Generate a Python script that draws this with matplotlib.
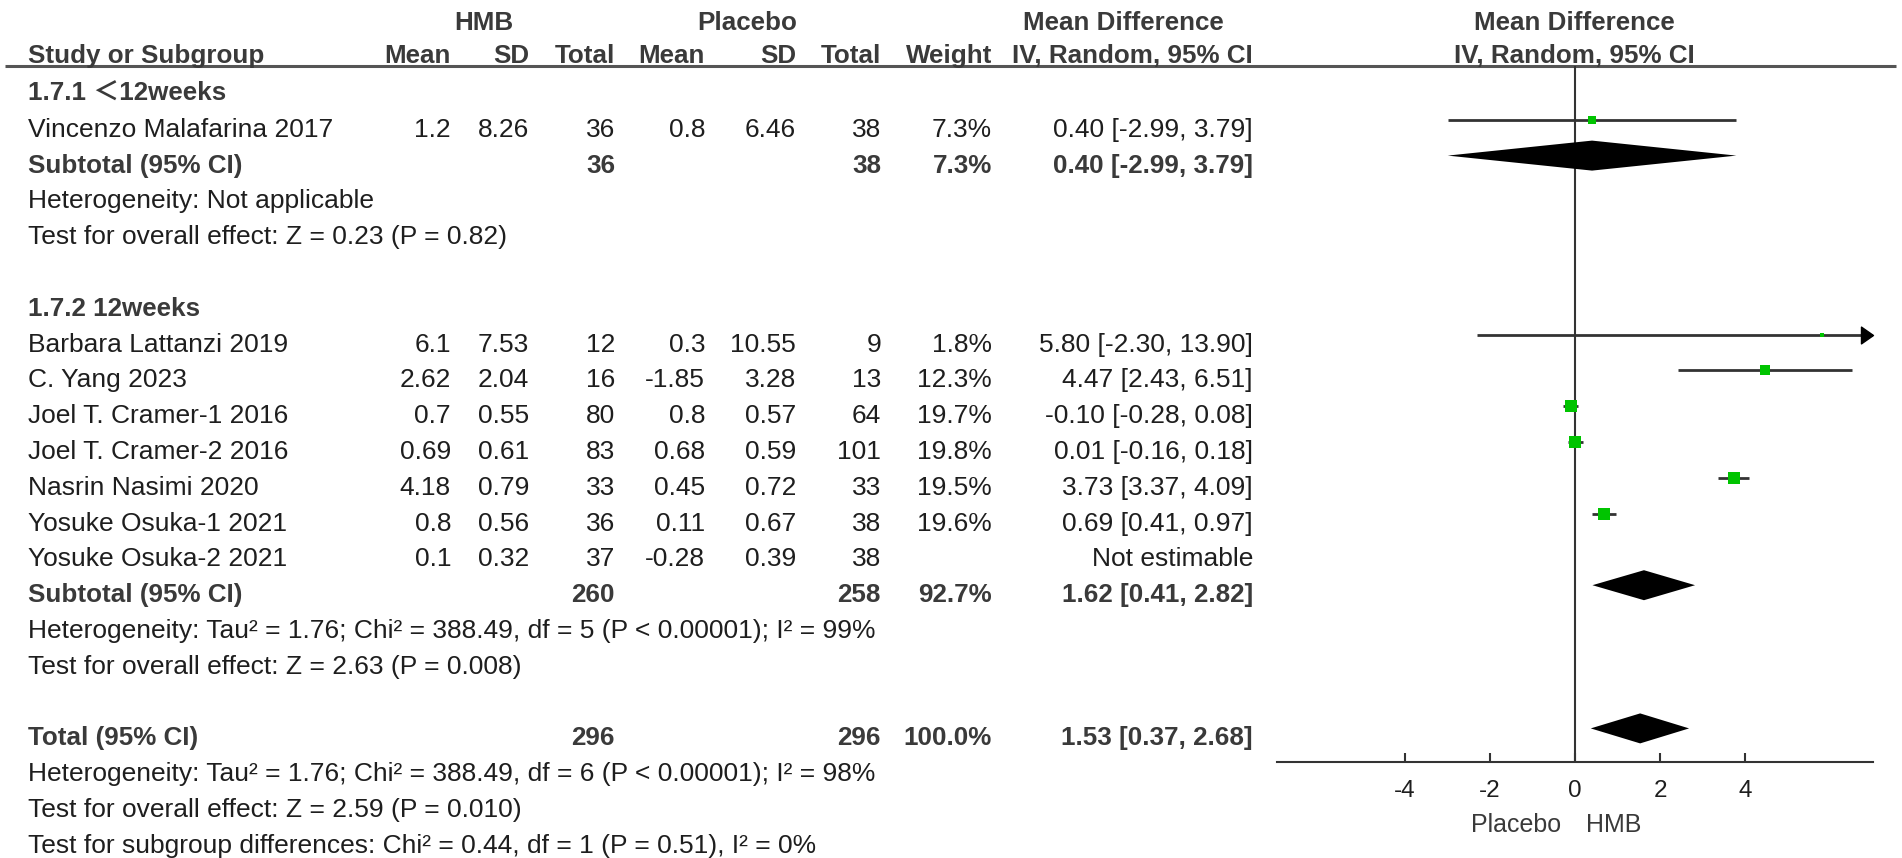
import matplotlib
matplotlib.use("Agg")
import matplotlib.pyplot as plt
import numpy as np
from matplotlib.path import Path

# ---------------- data ----------------
studies = ["Vincenzo Malafarina 2017", "Barbara Lattanzi 2019", "C. Yang 2023",
           "Joel T. Cramer-1 2016", "Joel T. Cramer-2 2016", "Nasrin Nasimi 2020",
           "Yosuke Osuka-1 2021", "Yosuke Osuka-2 2021"]
study_group = [0, 1, 1, 1, 1, 1, 1, 1]
hmb_mean = ["1.2", "6.1", "2.62", "0.7", "0.69", "4.18", "0.8", "0.1"]
hmb_sd = ["8.26", "7.53", "2.04", "0.55", "0.61", "0.79", "0.56", "0.32"]
hmb_n = [36, 12, 16, 80, 83, 33, 36, 37]
pla_mean = ["0.8", "0.3", "-1.85", "0.8", "0.68", "0.45", "0.11", "-0.28"]
pla_sd = ["6.46", "10.55", "3.28", "0.57", "0.59", "0.72", "0.67", "0.39"]
pla_n = [38, 9, 13, 64, 101, 33, 38, 38]
weight = [7.3, 1.8, 12.3, 19.7, 19.8, 19.5, 19.6, None]
md = [0.40, 5.80, 4.47, -0.10, 0.01, 3.73, 0.69, None]
md_lo = [-2.99, -2.30, 2.43, -0.28, -0.16, 3.37, 0.41, None]
md_hi = [3.79, 13.90, 6.51, 0.08, 0.18, 4.09, 0.97, None]

group_labels = ["1.7.1 \uff1c12weeks", "1.7.2 12weeks"]
sub_hmb_n = [36, 260]
sub_pla_n = [38, 258]
sub_weight = [7.3, 92.7]
sub_md = [0.40, 1.62]
sub_lo = [-2.99, 0.41]
sub_hi = [3.79, 2.82]
sub_het = ["Heterogeneity: Not applicable",
           "Heterogeneity: Tau\u00b2 = 1.76; Chi\u00b2 = 388.49, df = 5 (P < 0.00001); I\u00b2 = 99%"]
sub_test = ["Test for overall effect: Z = 0.23 (P = 0.82)",
            "Test for overall effect: Z = 2.63 (P = 0.008)"]

tot_hmb_n, tot_pla_n, tot_weight = 296, 296, 100.0
tot_md, tot_lo, tot_hi = 1.53, 0.37, 2.68
tot_lines = ["Heterogeneity: Tau\u00b2 = 1.76; Chi\u00b2 = 388.49, df = 6 (P < 0.00001); I\u00b2 = 98%",
             "Test for overall effect: Z = 2.59 (P = 0.010)",
             "Test for subgroup differences: Chi\u00b2 = 0.44, df = 1 (P = 0.51), I\u00b2 = 0%"]

xticks = [-4, -2, 0, 2, 4]
x_min, x_max = -7, 7
favours = ["Placebo", "HMB"]

# ---------------- layout ----------------
plt.rcParams["axes.unicode_minus"] = False
W, H = 1902, 858
fig = plt.figure(figsize=(W / 100, H / 100), dpi=100)
fig.patch.set_facecolor("white")
tab = fig.add_axes([0, 0, 1, 1])
tab.set_xlim(0, W)
tab.set_ylim(H, 0)
tab.axis("off")

FONT = ["Liberation Sans", "Arial", "Noto Sans CJK SC", "DejaVu Sans"]
FS = 19.0
FS_B = 18.7
NORM_C = "#1e1e1e"
BOLD_C = "#3a3a3a"
GREEN = "#00c400"
LINE_C = "#333333"


def T(x, y, s, ha="left", bold=False, color=None, size=None):
    if size is None:
        size = FS_B if bold else FS
    tab.text(x, y, s, ha=ha, va="baseline", fontsize=size,
             fontweight="bold" if bold else "normal",
             color=color or (BOLD_C if bold else NORM_C), family=FONT)


def rowy(i):
    return 101.0 + 35.8 * i


# column right edges (pixels)
C_LABEL = 28
C_HM, C_HSD, C_HN = 451, 529, 615
C_PM, C_PSD, C_PN = 705, 796, 881
C_W, C_CI = 992, 1253
PLOT_L, PLOT_R = 1277, 1873
HEAD_LINE_Y = 66
AXIS_Y = 762

# header
T(484, 30, "HMB", ha="center", bold=True)
T(747, 30, "Placebo", ha="center", bold=True)
T(1123, 30, "Mean Difference", ha="center", bold=True)
T(1574, 30, "Mean Difference", ha="center", bold=True)
T(C_LABEL, 63, "Study or Subgroup", bold=True)
for x, s in [(C_HM, "Mean"), (C_HSD, "SD"), (C_HN, "Total"), (C_PM, "Mean"),
             (C_PSD, "SD"), (C_PN, "Total"), (C_W, "Weight"), (C_CI, "IV, Random, 95% CI")]:
    T(x, 63, s, ha="right", bold=True)
T(1574, 63, "IV, Random, 95% CI", ha="center", bold=True)
tab.plot([5, 1896], [HEAD_LINE_Y, HEAD_LINE_Y], color="#555555", lw=2.2,
         solid_capstyle="butt")

# forest axes
ax = fig.add_axes([PLOT_L / W, (H - AXIS_Y) / H, (PLOT_R - PLOT_L) / W,
                   (AXIS_Y - HEAD_LINE_Y) / H])
ax.set_xlim(x_min, x_max)
ax.set_ylim(AXIS_Y, HEAD_LINE_Y)
ax.patch.set_alpha(0)
for sp in ["left", "right", "top"]:
    ax.spines[sp].set_visible(False)
ax.spines["bottom"].set_color(LINE_C)
ax.spines["bottom"].set_linewidth(1.5)
ax.set_yticks([])
ax.set_xticks(xticks)
ax.set_xticklabels([str(t) for t in xticks], family=FONT)
ax.tick_params(axis="x", direction="in", length=6.5, width=1.5, color=LINE_C,
               pad=13, labelsize=17.5, labelcolor=NORM_C)
ax.axvline(0, color=LINE_C, lw=1.5, zorder=1)

arrow_marker = Path([(0, 0), (-1, 0.7), (-1, -0.7), (0, 0)],
                    [Path.MOVETO, Path.LINETO, Path.LINETO, Path.CLOSEPOLY])


def diamond(y, m, lo, hi):
    ax.fill([lo, m, hi, m], [y, y - 15, y, y + 15], color="black", lw=0, zorder=3)


# rows
row = 0
for g in range(2):
    T(C_LABEL, rowy(row), group_labels[g], bold=True)
    row += 1
    for k, name in enumerate(studies):
        if study_group[k] != g:
            continue
        y = rowy(row)
        T(C_LABEL, y, name)
        T(C_HM, y, hmb_mean[k], ha="right")
        T(C_HSD, y, hmb_sd[k], ha="right")
        T(C_HN, y, str(hmb_n[k]), ha="right")
        T(C_PM, y, pla_mean[k], ha="right")
        T(C_PSD, y, pla_sd[k], ha="right")
        T(C_PN, y, str(pla_n[k]), ha="right")
        if md[k] is None:
            T(C_CI, y, "Not estimable", ha="right")
        else:
            T(C_W, y, f"{weight[k]:.1f}%", ha="right")
            T(C_CI, y, f"{md[k]:.2f} [{md_lo[k]:.2f}, {md_hi[k]:.2f}]", ha="right")
            my = y - 17
            lo = max(md_lo[k], x_min)
            hi = min(md_hi[k], x_max)
            ax.plot([lo, hi], [my, my], color=LINE_C, lw=2, solid_capstyle="butt", zorder=2)
            if md_hi[k] > x_max:
                ax.plot([x_max], [my], marker=arrow_marker, markersize=17.3,
                        color="black", clip_on=False, zorder=2)
            side_px = 12.0 * np.sqrt(weight[k] / 19.7)
            ax.plot([md[k]], [my], marker="s", markersize=side_px * 0.72,
                    color=GREEN, mec=GREEN, mew=0, zorder=4)
        row += 1
    y = rowy(row)
    T(C_LABEL, y, "Subtotal (95% CI)", bold=True)
    T(C_HN, y, str(sub_hmb_n[g]), ha="right", bold=True)
    T(C_PN, y, str(sub_pla_n[g]), ha="right", bold=True)
    T(C_W, y, f"{sub_weight[g]:.1f}%", ha="right", bold=True)
    T(C_CI, y, f"{sub_md[g]:.2f} [{sub_lo[g]:.2f}, {sub_hi[g]:.2f}]", ha="right", bold=True)
    diamond(y - 17, sub_md[g], sub_lo[g], sub_hi[g])
    row += 1
    T(C_LABEL, rowy(row), sub_het[g])
    row += 1
    T(C_LABEL, rowy(row), sub_test[g])
    row += 2

y = rowy(row)
T(C_LABEL, y, "Total (95% CI)", bold=True)
T(C_HN, y, str(tot_hmb_n), ha="right", bold=True)
T(C_PN, y, str(tot_pla_n), ha="right", bold=True)
T(C_W, y, f"{tot_weight:.1f}%", ha="right", bold=True)
T(C_CI, y, f"{tot_md:.2f} [{tot_lo:.2f}, {tot_hi:.2f}]", ha="right", bold=True)
diamond(y - 17, tot_md, tot_lo, tot_hi)
row += 1
for s in tot_lines:
    T(C_LABEL, rowy(row), s)
    row += 1

# favours labels
T(1561, 832, favours[0], ha="right", color="#3a3a3a", size=18)
T(1586, 832, favours[1], ha="left", color="#3a3a3a", size=18)

fig.savefig("out.png", dpi=100, facecolor="white")
